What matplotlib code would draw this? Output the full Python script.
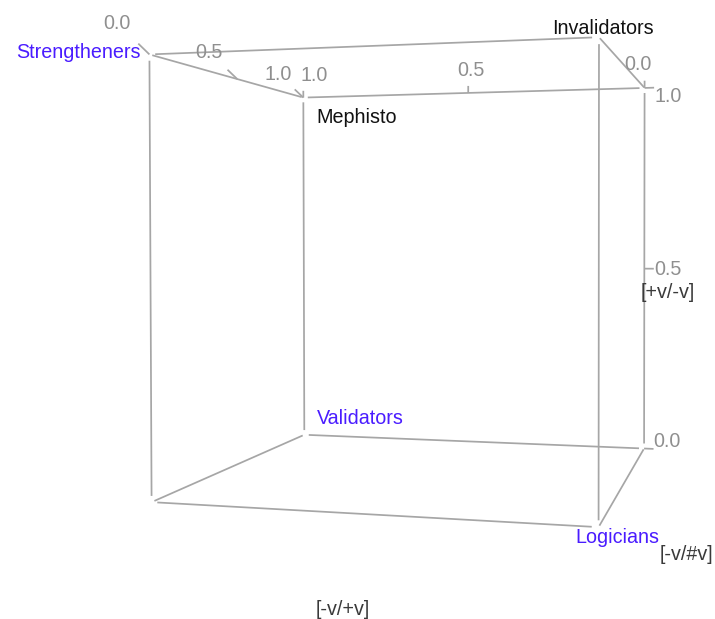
import numpy as np
import matplotlib.pyplot as plt

plt.rcParams['font.family'] = ['Liberation Sans', 'DejaVu Sans']

# axes of the cube, each running 0..1
x_ticks = [0.0, 0.5, 1.0]
y_ticks = [0.0, 0.5, 1.0]
z_ticks = [0.0, 0.5, 1.0]
x_title = "[-v/+v]"
y_title = "[-v/#v]"
z_title = "[+v/-v]"

# labelled corners
names = ["Strengtheners", "Mephisto", "Invalidators", "Validators", "Logicians"]
corner_x = [0, 1, 0, 1, 0]
corner_y = [1, 1, 0, 1, 0]
corner_z = [1, 1, 1, 0, 0]

# text style per corner: colour, alignment, offset in screen pixels (y up)
corner_style = {
    "Strengtheners": ("#4a1cff", "right", "center", (-9, 2)),
    "Mephisto":      ("#111111", "left", "center", (13, -20)),
    "Invalidators":  ("#111111", "center", "bottom", (4, -1)),
    "Validators":    ("#4a1cff", "left", "center", (13, 16)),
    "Logicians":     ("#4a1cff", "left", "center", (-23, -10)),
}

# camera looking at the box
eye = np.array([-2.695, -0.340, 0.610])
yaw, pitch, roll = 0.25681, 0.01676, -0.00137
focal = 1320.7
centre = np.array([424.4, 251.4])

fwd = np.array([np.cos(pitch) * np.cos(yaw), np.cos(pitch) * np.sin(yaw), -np.sin(pitch)])
r0 = np.array([np.sin(yaw), -np.cos(yaw), 0.0])
u0 = np.cross(r0, fwd)
right = np.cos(roll) * r0 + np.sin(roll) * u0
up = -np.sin(roll) * r0 + np.cos(roll) * u0


def project(pts):
    d = np.atleast_2d(pts) - eye
    depth = d @ fwd
    u = centre[0] + focal * (d @ right) / depth
    v = centre[1] - focal * (d @ up) / depth
    return u, v


def seg3d(ax, p, q, **kw):
    u, v = project(np.array([p, q], float))
    ax.plot(u, v, **kw)


def text3d(ax, pos, s, **kw):
    u, v = project(pos)
    ax.text(u[0], v[0], s, ha="center", va="center", **kw)


edge_kw = dict(color="#a6a6a6", lw=1.25, solid_capstyle="butt")
tick_col = "#8f8f8f"
fs = 14.2

fig = plt.figure(figsize=(7.15, 6.19), dpi=100)
ax = fig.add_axes([0, 0, 1, 1])
ax.set_xlim(0, 715)
ax.set_ylim(619, 0)
ax.axis("off")

# box edges, with a small gap at each corner
gap = 0.014
corners = [np.array(c, float) for c in np.ndindex(2, 2, 2)]
for a in corners:
    for b in corners:
        if np.sum(np.abs(a - b)) == 1 and tuple(a) < tuple(b):
            seg3d(ax, a + gap * (b - a), b - gap * (b - a), **edge_kw)

# x axis along the top edge y=1, z=1
for t in x_ticks:
    seg3d(ax, (t, 1, 1), (t, 1.027, 1.025), **edge_kw)
    text3d(ax, (t, 1.08, 1.072), f"{t:.1f}", color=tick_col, fontsize=fs)

# y axis along the top edge x=1, z=1
for t in y_ticks:
    seg3d(ax, (1, t, 1), (1, t, 1.02), **edge_kw)
    text3d(ax, (1.21, t + 0.04, 1.09), f"{t:.1f}", color=tick_col, fontsize=fs)

# z axis along the vertical edge x=1, y=0
for t in z_ticks:
    seg3d(ax, (1, 0, t), (1, -0.026, t), **edge_kw)
    text3d(ax, (1.187, -0.05, t - 0.008), f"{t:.1f}", color=tick_col, fontsize=fs)

title_col = "#3a3a3a"
text3d(ax, (0, 0.55, -0.21), x_title, color=title_col, fontsize=fs)
text3d(ax, (0, -0.177, -0.045), y_title, color=title_col, fontsize=fs)
text3d(ax, (1.187, -0.05, 0.425), z_title, color=title_col, fontsize=fs)

# corner labels
u, v = project(np.column_stack([corner_x, corner_y, corner_z]))
for name, uu, vv in zip(names, u, v):
    col, ha, va, off = corner_style[name]
    ax.annotate(name, (uu, vv), xytext=off, textcoords="offset pixels",
                color=col, fontsize=fs, ha=ha, va=va)

fig.savefig("out.png", dpi=100)
